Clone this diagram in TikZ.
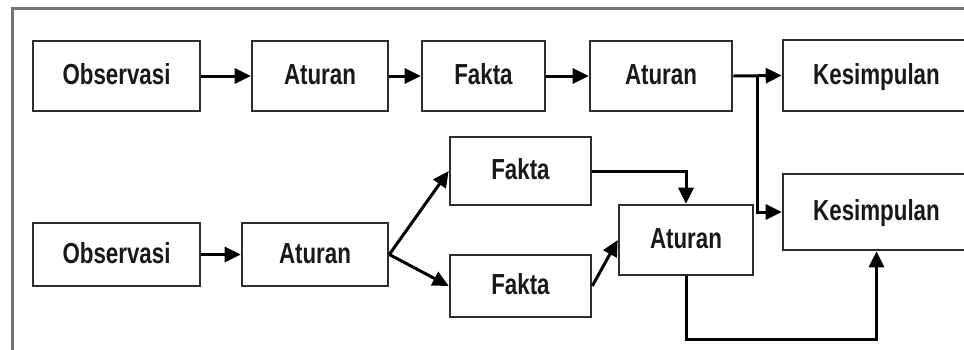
\documentclass[tikz,border=0pt]{standalone}
\usepackage{fontspec}
\setmainfont{Liberation Sans}[FakeStretch=0.77]
\usetikzlibrary{arrows.meta}
\definecolor{boxline}{RGB}{45,45,45}
\definecolor{frameline}{RGB}{115,115,115}
\definecolor{ink}{RGB}{25,25,25}
\tikzset{
  stepbox/.style={draw=boxline, line width=2.6pt, fill=white, inner sep=0pt,
    font=\fontsize{29}{31}\selectfont\bfseries, text=ink,
    text height=22pt, text depth=5pt},
  flow/.style={line width=3pt, draw=black,
    -{Triangle[length=16pt,width=15pt]}},
}
\begin{document}
\begin{tikzpicture}[x=1pt, y=-1pt]
\clip (0,0) rectangle (964,349);
\fill[white] (0,0) rectangle (964,349);
% outer frame, running past the page on the right and bottom
\draw[frameline, line width=2.5pt] (12.5,8.5) rectangle (990,380);

% first chain
\node[stepbox, minimum width=167pt, minimum height=70pt] (obsA) at (116.5,76) {Observasi};
\node[stepbox, minimum width=136pt, minimum height=70pt] (atuA) at (320,76) {Aturan};
\node[stepbox, minimum width=123pt, minimum height=70pt] (fakA) at (483.5,76) {Fakta};
\node[stepbox, minimum width=142pt, minimum height=70pt] (atuB) at (661,76) {Aturan};
\node[stepbox, minimum width=187pt, minimum height=71pt] (kesA) at (876.5,75.5) {Kesimpulan};

% second chain
\node[stepbox, minimum width=167pt, minimum height=63pt] (obsB) at (116.5,254.5) {Observasi};
\node[stepbox, minimum width=146pt, minimum height=63pt] (atuC) at (315,254.5) {Aturan};
\node[stepbox, minimum width=141pt, minimum height=68pt] (fakU) at (520.5,171) {Fakta};
\node[stepbox, minimum width=141pt, minimum height=62pt] (fakL) at (520.5,286) {Fakta};
\node[stepbox, minimum width=134pt, minimum height=70pt] (atuD) at (686,240) {Aturan};
\node[stepbox, minimum width=187pt, minimum height=76pt] (kesB) at (876.5,212) {Kesimpulan};

\coordinate (split) at (757,76);

% connectors of the first chain
\draw[flow] (obsA) -- (atuA);
\draw[flow] (atuA) -- (fakA);
\draw[flow] (fakA) -- (atuB);
\draw[flow] (atuB.east) -- (kesA.west);
\draw[flow] (split) |- (kesB.west);

% connectors of the second chain
\draw[flow] (obsB) -- (atuC);
\draw[flow] (atuC.east) -- (fakU.west);
\draw[flow] (atuC.east) -- (fakL.west);
\draw[flow] (fakL.east) -- (atuD.west);
\draw[flow] (fakU.east) -| (atuD.north);
\draw[flow] (atuD.south) -- ++(0,63) -| (kesB.south);
\end{tikzpicture}
\end{document}
